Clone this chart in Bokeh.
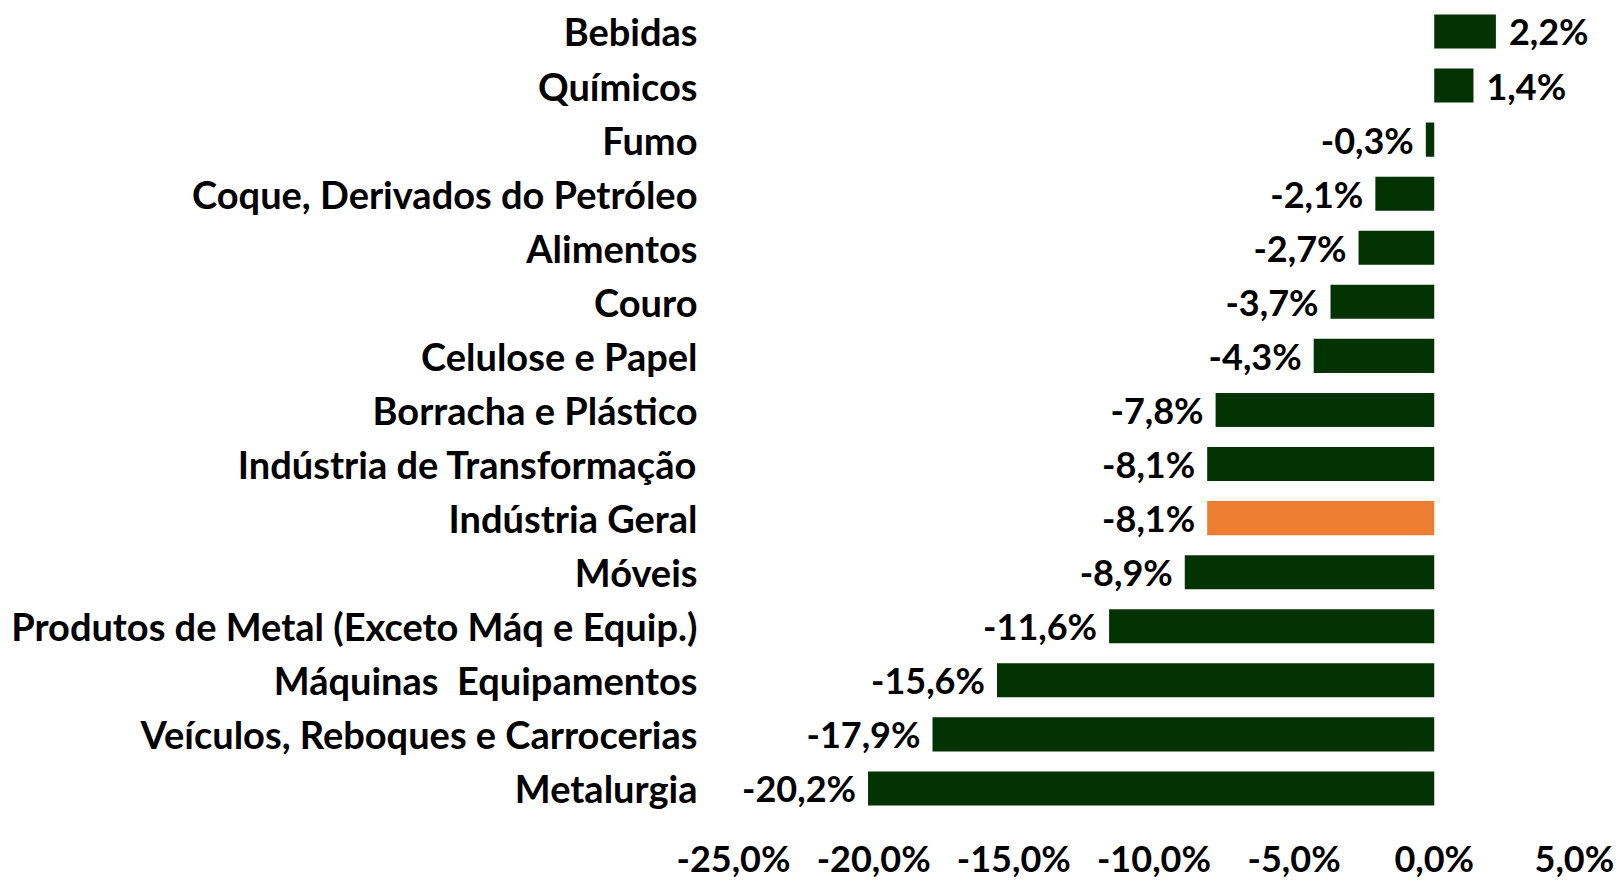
from bokeh.plotting import figure
from bokeh.models import Range1d, FixedTicker, ColumnDataSource
from bokeh.core.properties import value
from bokeh.embed import file_html
from bokeh.resources import INLINE

categories = [
    "Bebidas", "Químicos", "Fumo", "Coque, Derivados do Petróleo", "Alimentos",
    "Couro", "Celulose e Papel", "Borracha e Plástico", "Indústria de Transformação",
    "Indústria Geral", "Móveis", "Produtos de Metal (Exceto Máq e Equip.)",
    "Máquinas\u00a0 Equipamentos", "Veículos, Reboques e Carrocerias", "Metalurgia",
]
values = [2.2, 1.4, -0.3, -2.1, -2.7, -3.7, -4.3, -7.8, -8.1, -8.1, -8.9, -11.6, -15.6, -17.9, -20.2]
highlight = "Indústria Geral"
x_ticks = [-25, -20, -15, -10, -5, 0, 5]

GREEN = "#033303"
ORANGE = "#ED7D31"
FONT = "Lato"

ypos = list(range(len(categories)))
colors = [ORANGE if c == highlight else GREEN for c in categories]
labels = [("%.1f%%" % v).replace(".", ",") for v in values]
pos = [v >= 0 for v in values]

W, H = 1619, 885
BL, BB = 733, 77
p = figure(width=W, height=H, output_backend="svg", toolbar_location=None,
           x_range=Range1d(-25, 6.61), y_range=Range1d(14.371, -0.573),
           min_border_left=BL, min_border_right=0, min_border_top=0, min_border_bottom=BB)
p.outline_line_color = None
p.background_fill_color = "white"
p.border_fill_color = "white"
p.xgrid.visible = False
p.ygrid.visible = False

src = ColumnDataSource(dict(y=ypos, v=values, c=colors, lab=labels))
p.hbar(y="y", left=0, right="v", height=0.63, fill_color="c", line_color=None, source=src)

srcp = ColumnDataSource(dict(y=[y for y, q in zip(ypos, pos) if q],
                             v=[v for v, q in zip(values, pos) if q],
                             lab=[l for l, q in zip(labels, pos) if q]))
srcn = ColumnDataSource(dict(y=[y for y, q in zip(ypos, pos) if not q],
                             v=[v for v, q in zip(values, pos) if not q],
                             lab=[l for l, q in zip(labels, pos) if not q]))
common = dict(text="lab", text_font=value(FONT), text_font_style="bold",
              text_font_size="36px", text_baseline="middle", text_color="#000000")
p.text(x="v", y="y", x_offset=13, text_align="left", source=srcp, **common)
p.text(x="v", y="y", x_offset=-12, text_align="right", source=srcn, **common)

# x axis
p.xaxis.ticker = FixedTicker(ticks=x_ticks)
p.xaxis.major_label_overrides = {t: ("%.1f%%" % t).replace(".", ",") for t in x_ticks}
p.xaxis.axis_line_color = None
p.xaxis.major_tick_line_color = None
p.xaxis.minor_tick_line_color = None
p.xaxis.major_label_standoff = 21
p.xaxis.major_label_text_font = FONT
p.xaxis.major_label_text_font_style = "bold"
p.xaxis.major_label_text_font_size = "36px"
p.xaxis.major_label_text_color = "#000000"

# y axis
p.yaxis.ticker = FixedTicker(ticks=ypos)
p.yaxis.major_label_overrides = {i: c for i, c in enumerate(categories)}
p.yaxis.axis_line_color = None
p.yaxis.major_tick_line_color = None
p.yaxis.minor_tick_line_color = None
p.yaxis.major_label_standoff = 30
p.yaxis.major_label_text_font = FONT
p.yaxis.major_label_text_font_style = "bold"
p.yaxis.major_label_text_font_size = "38px"
p.yaxis.major_label_text_color = "#000000"

open("out.html", "w").write(file_html(p, INLINE))
